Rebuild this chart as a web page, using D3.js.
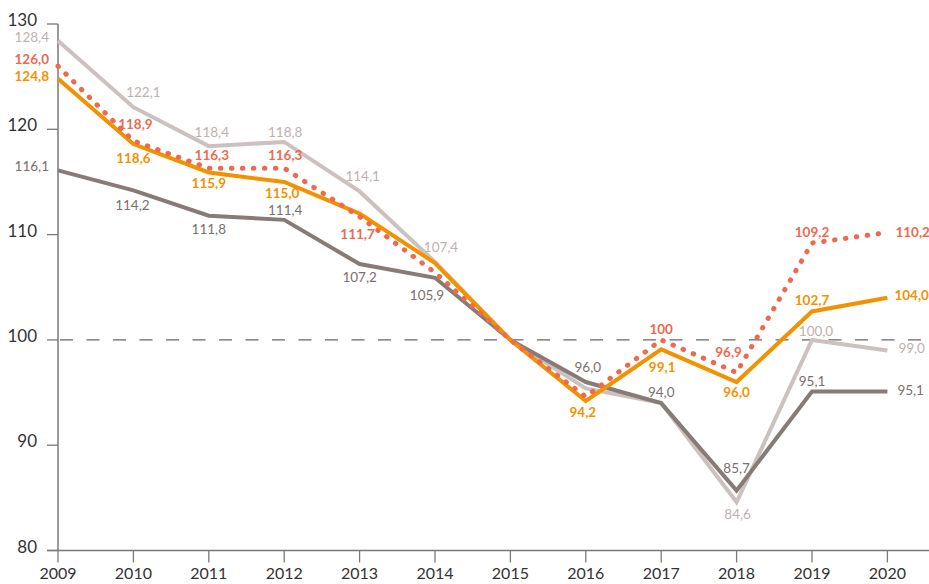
<!DOCTYPE html>
<html><head><meta charset="utf-8">
<script src="https://cdn.jsdelivr.net/npm/d3@7/dist/d3.min.js"></script>
<style>
html,body{margin:0;padding:0;background:#fff;}
svg{display:block;font-family:Lato,"Noto Sans",sans-serif;}
</style></head>
<body><svg id="c" width="929" height="584"></svg>
<script>
// ---- data ----
const years = [2009,2010,2011,2012,2013,2014,2015,2016,2017,2018,2019,2020];
const yTicks = [80,90,100,110,120,130];
const lightGray = [128.4,122.1,118.4,118.8,114.1,107.4,100,95.4,94.0,84.6,100.0,99.0];
const darkGray  = [116.1,114.2,111.8,111.4,107.2,105.9,100,96.0,94.0,85.7,95.1,95.1];
const orange    = [124.8,118.6,115.9,115.0,112.0,107.3,100,94.2,99.1,96.0,102.7,104.0];
const red       = [126.0,118.9,116.3,116.3,111.7,106.4,100,94.6,100,96.9,109.2,110.2];
// which points carry a value label (null = none)
const lightLabels = ["128,4","122,1","118,4","118,8","114,1","107,4",null,null,null,"84,6","100,0","99,0"];
const darkLabels  = ["116,1","114,2","111,8","111,4","107,2","105,9",null,"96,0","94,0","85,7","95,1","95,1"];
const orangeLabels= ["124,8","118,6","115,9","115,0",null,null,null,"94,2","99,1","96,0","102,7","104,0"];
const redLabels   = ["126,0","118,9","116,3","116,3","111,7",null,null,null,"100","96,9","109,2","110,2"];

// ---- label layout (offsets of label centre from point) ----
const lightOff = [[-9,-4,"end"],[10,-15],[3,-14],[1,-10],[3,-15],[6,-15],null,null,null,[1,12],[4,-9],[11,-2,"start"]];
const darkOff  = [[-9,-4,"end"],[-1,15],[0,14],[1,-10],[0,13],[-8,18],null,[2,-15],[0,-11],[0,-22],[0,-10],[10,-1,"start"]];
const orangeOff= [[-9,-2,"end"],[0,14],[0,11],[-2,11],null,null,null,[-3,11],[1,18],[0,10],[0,-11],[7,-2,"start"]];
const redOff   = [[-9,-7,"end"],[2,-17],[3,-13],[1,-13],[-2,18],null,null,null,[0,-11],[-8,-20],[0,-11],[8,0,"start"]];

const series = [
  {vals:lightGray, labels:lightLabels, off:lightOff, color:"#cbc2c0", lab:"#bdb1af", w:4, weight:400},
  {vals:darkGray,  labels:darkLabels,  off:darkOff,  color:"#877b78", lab:"#7b6f6c", w:4, weight:400},
  {vals:orange,    labels:orangeLabels,off:orangeOff,color:"#f39200", lab:"#f39200", w:4, weight:700},
  {vals:red,       labels:redLabels,   off:redOff,   color:"#ec6a50", lab:"#ec6a50", w:4.5, weight:700, dotted:true}
];

const svg = d3.select("#c");
const x = d3.scaleLinear().domain([2009,2020]).range([58,887.4]);
const y = d3.scaleLinear().domain([80,130]).range([550.5,24]);

// axes
const axCol = "#7a7a7a";
svg.append("line").attr("x1",58).attr("x2",58).attr("y1",y(130)).attr("y2",y(80))
  .attr("stroke",axCol).attr("stroke-width",1.5);
svg.append("line").attr("x1",47).attr("x2",929).attr("y1",y(80)).attr("y2",y(80))
  .attr("stroke",axCol).attr("stroke-width",1.5);
svg.selectAll(".yt").data(yTicks).join("line")
  .attr("x1",47).attr("x2",58).attr("y1",d=>y(d)).attr("y2",d=>y(d))
  .attr("stroke",axCol).attr("stroke-width",1.3);
svg.selectAll(".ytl").data(yTicks).join("text")
  .attr("x",37).attr("y",d=>y(d)+2).attr("text-anchor","end")
  .attr("font-size",17).attr("fill","#333").text(d=>d);
svg.selectAll(".xt").data(years).join("line")
  .attr("x1",d=>x(d)).attr("x2",d=>x(d)).attr("y1",y(80)).attr("y2",y(80)+12)
  .attr("stroke",axCol).attr("stroke-width",1.3);
svg.selectAll(".xtl").data(years).join("text")
  .attr("x",d=>x(d)).attr("y",579).attr("text-anchor","middle")
  .attr("font-size",16).attr("fill","#333").text(d=>d);

// reference line at 100
svg.append("line").attr("x1",60).attr("x2",929).attr("y1",y(100)).attr("y2",y(100))
  .attr("stroke","#666").attr("stroke-width",1.1).attr("stroke-dasharray","13,13.5");

const line = d3.line().x((d,i)=>x(years[i])).y(d=>y(d));

series.forEach(s=>{
  const p = svg.append("path").attr("d",line(s.vals)).attr("fill","none")
    .attr("stroke",s.color).attr("stroke-width",s.w).attr("stroke-linejoin","miter");
  if(s.dotted) p.attr("stroke-dasharray","0.5,10.5").attr("stroke-linecap","round").attr("stroke-width",5);
});

series.forEach(s=>{
  s.labels.forEach((t,i)=>{
    if(!t) return;
    const o = s.off[i];
    svg.append("text")
      .attr("x",x(years[i])+o[0]).attr("y",y(s.vals[i])+o[1]+4.7)
      .attr("text-anchor",o[2]||"middle")
      .attr("font-size",13.5).attr("font-weight",s.weight)
      .attr("fill",s.lab).text(t);
  });
});
</script></body></html>
